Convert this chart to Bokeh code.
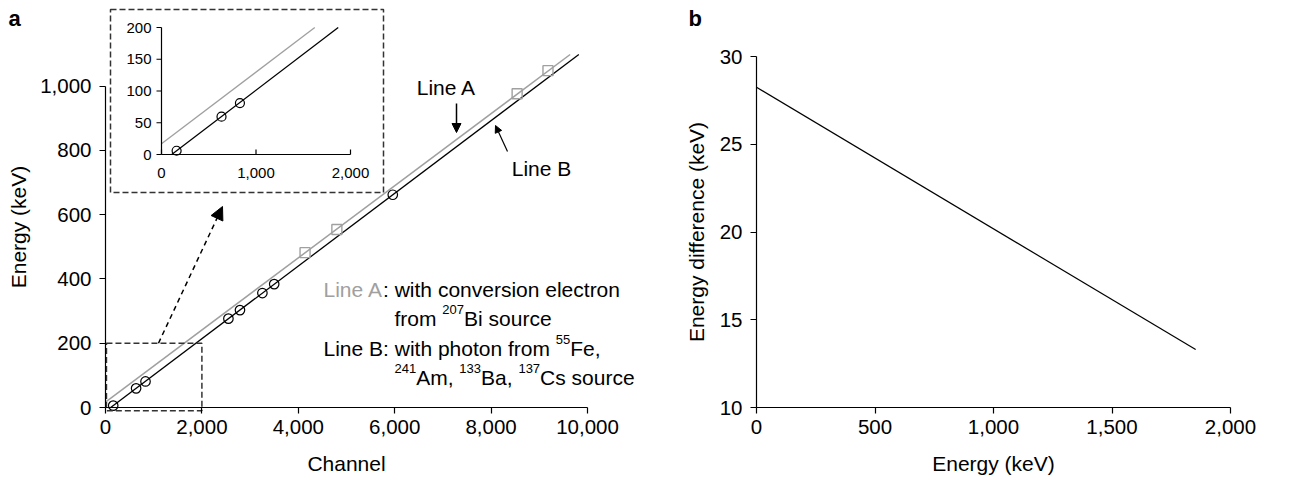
import numpy as np
from bokeh.plotting import figure
from bokeh.models import (Range1d, FixedTicker, NumeralTickFormatter, Label,
                          Arrow, NormalHead)
from bokeh.layouts import row
from bokeh.core.properties import value
from bokeh.embed import file_html
from bokeh.resources import INLINE

# ---------------- data ----------------
# Line B: photon sources (55Fe, 241Am, 133Ba, 137Cs) -> open circles
chan_B = [160, 635, 830, 2550, 2790, 3255, 3500, 5960]
energy_B = [5.9, 59.5, 81.0, 276.4, 302.9, 356.0, 383.8, 661.7]
# Line A: 207Bi conversion electrons -> open grey squares
chan_A = [4140, 4800, 8540, 9180]
energy_A = [481.7, 553.8, 975.7, 1047.8]
# fitted lines (end points)
lineA_ch = [0, 9640]
lineA_E = [16.8, 1098]
lineB_ch = [108, 9820]
lineB_E = [0, 1098]
# inset (zoom of 0-2,000 channels, 0-200 keV)
inset_lineA_ch = [0, 1622]
inset_lineA_E = [16.8, 200]
inset_lineB_ch = [108, 1870]
inset_lineB_E = [0, 200]
inset_chan = [160, 635, 830]
inset_energy = [5.9, 59.5, 81.0]
inset_xticks = [0, 1000, 2000]
inset_xlabels = ["0", "1,000", "2,000"]
inset_yticks = [0, 50, 100, 150, 200]
inset_ylabels = ["0", "50", "100", "150", "200"]
# zoom box in the main panel
zoom_ch = [20, 2000]
zoom_E = [-10, 200]
a_xticks = [0, 2000, 4000, 6000, 8000, 10000]
a_yticks = [0, 200, 400, 600, 800, 1000]
# panel b
energy_b = [0, 1853]
diff_b = [28.25, 13.3]
b_xticks = [0, 500, 1000, 1500, 2000]
b_yticks = [10, 15, 20, 25, 30]

# ---------------- styling ----------------
FONT = "Liberation Sans"
TICK_FS = "20.5px"
LAB_FS = 21
TXT = 21
SUP = 13
GRAY = "#a0a0a0"
DASH = "#333333"
H = 480
CAP = 0.358          # cap-height centre above baseline, in em

ARIAL = {' ': 278, ',': 278, ':': 278, '.': 278,
         '0': 556, '1': 556, '2': 556, '3': 556, '4': 556, '5': 556,
         '6': 556, '7': 556, '8': 556, '9': 556,
         'A': 667, 'B': 667, 'C': 722, 'E': 667, 'F': 611, 'L': 556,
         'a': 556, 'b': 556, 'c': 500, 'e': 556, 'f': 278, 'h': 556,
         'i': 222, 'l': 222, 'm': 833, 'n': 556, 'o': 556, 'p': 556,
         'r': 333, 's': 500, 't': 278, 'u': 556, 'v': 500, 'w': 722,
         'y': 500, 'g': 556, 'k': 500, 'd': 556}


def tw(s, size):
    return sum(ARIAL.get(c, 556) for c in s) / 1000.0 * size


def make_fig(width, xr, yr):
    p = figure(width=width, height=H, x_range=xr, y_range=yr,
               output_backend="svg", toolbar_location=None,
               min_border_left=0, min_border_right=0,
               min_border_top=0, min_border_bottom=0)
    p.grid.visible = False
    p.outline_line_color = None
    p.background_fill_color = "white"
    p.border_fill_color = "white"
    return p


def style_axes(p, xticks, yticks, xbounds, ybounds, xfix, yfix,
               x_std=6, y_std=8):
    for ax in (p.xaxis[0], p.yaxis[0]):
        ax.axis_line_color = "black"
        ax.axis_line_width = 1.2
        ax.major_tick_line_color = "black"
        ax.major_tick_line_width = 1.2
        ax.major_tick_in = 0
        ax.major_tick_out = 6
        ax.minor_tick_line_color = None
        ax.major_label_text_font = FONT
        ax.major_label_text_font_size = TICK_FS
        ax.major_label_text_color = "black"
        ax.formatter = NumeralTickFormatter(format="0,0")
    p.xaxis[0].ticker = FixedTicker(ticks=xticks)
    p.yaxis[0].ticker = FixedTicker(ticks=yticks)
    p.xaxis[0].bounds = xbounds
    p.yaxis[0].bounds = ybounds
    p.xaxis[0].fixed_location = xfix
    p.yaxis[0].fixed_location = yfix
    p.xaxis[0].major_label_standoff = x_std
    p.yaxis[0].major_label_standoff = y_std


def label(p, fx, fy, px, py_base, text, size, color="black", align="left",
          style="normal", angle=0.0, centre=False):
    """Place text; py_base is the baseline pixel (or the centre if centre=True)."""
    py = py_base if centre else py_base - CAP * size
    p.add_layout(Label(x=fx(px), y=fy(py), text=text, text_font=FONT,
                       text_font_size=f"{size}px", text_color=color,
                       text_align=align, text_baseline="middle",
                       text_font_style=style, angle=angle))


# ---------------- panel a ----------------
A_W = 680
X0A, PXA = 105.0, 482.0 / 10000      # pixel of channel 0, pixels per channel
Y0A, PYA = 407.0, 321.5 / 1000       # pixel of 0 keV, pixels per keV
xa = Range1d(-X0A / PXA, (A_W - X0A) / PXA)
ya = Range1d(-(H - Y0A) / PYA, Y0A / PYA)


def ax_(px):
    return (px - X0A) / PXA


def ay_(py):
    return (Y0A - py) / PYA


pa = make_fig(A_W, xa, ya)
style_axes(pa, a_xticks, a_yticks, (0, 10000), (0, 1000), 0, 0)

# fitted lines and measured points
pa.line(lineA_ch, lineA_E, line_color=GRAY, line_width=1.5)
pa.line(lineB_ch, lineB_E, line_color="black", line_width=1.3)
pa.scatter(chan_A, energy_A, marker="square", size=10, fill_color=None,
           line_color=GRAY, line_width=1.4)
pa.scatter(chan_B, energy_B, marker="circle", size=9.5, fill_color=None,
           line_color="black", line_width=1.2)

# zoom box around the origin
pa.quad(left=[zoom_ch[0]], right=[zoom_ch[1]], bottom=[zoom_E[0]], top=[zoom_E[1]],
        fill_color=None, line_color=DASH, line_width=1.5, line_dash="6 3")

# inset frame (dashed box)
pa.quad(left=[ax_(110)], right=[ax_(383)], bottom=[ay_(192)], top=[ay_(9)],
        fill_color="white", line_color=DASH, line_width=1.5, line_dash="6 3")

# dashed arrow from zoom box to inset
pa.add_layout(Arrow(x_start=ax_(158), y_start=zoom_E[1], x_end=ax_(222), y_end=ay_(206),
                    line_color="black", line_width=1.5, line_dash="5 4",
                    end=NormalHead(size=13, fill_color="black", line_color="black",
                                   line_width=1)))

# inset drawn through a sub-coordinate mapping
inset = pa.subplot(x_source=Range1d(0, 2000), y_source=Range1d(0, 200),
                   x_target=Range1d(ax_(161), ax_(350)),
                   y_target=Range1d(ay_(154), ay_(27)))
inset.line(inset_lineA_ch, inset_lineA_E, line_color=GRAY, line_width=1.3)
inset.line(inset_lineB_ch, inset_lineB_E, line_color="black", line_width=1.3)
inset.scatter(inset_chan, inset_energy, marker="circle", size=9, fill_color=None,
              line_color="black", line_width=1.2)
inset.segment(x0=[0, 0], y0=[0, 0], x1=[2000, 0], y1=[0, 200],
              line_color="black", line_width=1.2)
inset.ray(x=inset_xticks, y=[0] * len(inset_xticks), length=5, length_units="screen",
          angle=np.pi / 2, line_color="black", line_width=1.2)
inset.ray(x=[0] * len(inset_yticks), y=inset_yticks, length=5, length_units="screen",
          angle=np.pi, line_color="black", line_width=1.2)
inset.text(x=inset_xticks, y=[0] * len(inset_xticks), text=inset_xlabels,
           y_offset=18, text_align="center", text_baseline="middle",
           text_font=value(FONT), text_font_size="15px", text_color="black")
inset.text(x=[0] * len(inset_yticks), y=inset_yticks, text=inset_ylabels,
           x_offset=-10, text_align="right", text_baseline="middle",
           text_font=value(FONT), text_font_size="15px", text_color="black")

# "Line A" / "Line B" callouts
label(pa, ax_, ay_, 446, 95, "Line A", TXT, align="center")
pa.add_layout(Arrow(x_start=ax_(456), y_start=ay_(103), x_end=ax_(456), y_end=ay_(132),
                    line_color="black", line_width=1.5,
                    end=NormalHead(size=9, fill_color="black", line_color="black",
                                   line_width=1)))
label(pa, ax_, ay_, 541, 176, "Line B", TXT, align="center")
pa.add_layout(Arrow(x_start=ax_(507), y_start=ay_(151), x_end=ax_(495), y_end=ay_(125),
                    line_color="black", line_width=1.2,
                    end=NormalHead(size=7, fill_color="black", line_color="black",
                                   line_width=1)))

# description with superscripts
legend_lines = [
    (323, 297, [("Line A", "m", GRAY), (": with conversion electron", "m", "black")]),
    (394, 326, [("from ", "m", "black"), ("207", "s", "black"), ("Bi source", "m", "black")]),
    (323, 355.7, [("Line B: with photon from ", "m", "black"), ("55", "s", "black"),
                  ("Fe,", "m", "black")]),
    (394, 384.5, [("241", "s", "black"), ("Am, ", "m", "black"), ("133", "s", "black"),
                  ("Ba, ", "m", "black"), ("137", "s", "black"),
                  ("Cs source", "m", "black")]),
]
for x0, base, pieces in legend_lines:
    x = x0
    for txt, kind, col in pieces:
        size = TXT if kind == "m" else SUP
        yb_ = base if kind == "m" else base - 12
        label(pa, ax_, ay_, x, yb_, txt, size, color=col)
        x += tw(txt, size)

# axis titles and panel letter
label(pa, ax_, ay_, X0A + 5000 * PXA, 471, "Channel", LAB_FS, align="center")
label(pa, ax_, ay_, 18, 226.5, "Energy (keV)", LAB_FS, align="center",
      angle=np.pi / 2, centre=True)
label(pa, ax_, ay_, 8, 26, "a", 22, style="bold")

# ---------------- panel b ----------------
B_W = 635
X0B, PXB = 76.0, 474.0 / 2000        # pixel of 0 keV, pixels per keV
Y0B, PYB = 407.0, 351.0 / 20         # pixel of 10 keV difference, pixels per keV
xb = Range1d(-X0B / PXB, (B_W - X0B) / PXB)
yb = Range1d(10 - (H - Y0B) / PYB, 10 + Y0B / PYB)


def bx_(px):
    return (px - X0B) / PXB


def by_(py):
    return 10 + (Y0B - py) / PYB


pb = make_fig(B_W, xb, yb)
style_axes(pb, b_xticks, b_yticks, (0, 2000), (10, 30), 10, 0)
pb.line(energy_b, diff_b, line_color="black", line_width=1.2)
label(pb, bx_, by_, X0B + 1000 * PXB, 471, "Energy (keV)", LAB_FS, align="center")
label(pb, bx_, by_, 16, Y0B - 10 * PYB, "Energy difference (keV)", LAB_FS,
      align="center", angle=np.pi / 2, centre=True)
label(pb, bx_, by_, 8, 26, "b", 22, style="bold")

layout = row(pa, pb)
open("out.html", "w").write(file_html(layout, INLINE))
